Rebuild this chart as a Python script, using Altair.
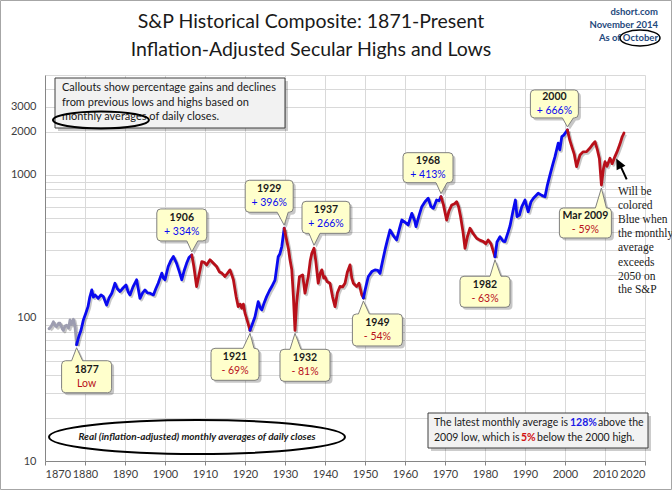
import math
import altair as alt
import pandas as pd

# ---------------- chart geometry ----------------
W, H = 600, 386
X0, X1 = 1870, 2020
Y0, Y1 = 10, 5000
PPY = W / (X1 - X0)
PPD = H / math.log10(Y1 / Y0)
FONT = "Lato"

# ---------------- data ----------------
years = [
    1871.0, 1871.5, 1872.1, 1872.6, 1872.9, 1873.4, 1873.75, 1874.3, 1874.6, 1875.0,
    1875.4, 1875.9, 1876.25, 1876.6, 1877.1, 1877.5, 1877.9,
    1878.5, 1879.0, 1879.6, 1880.2, 1880.75, 1881.2, 1881.7, 1882.1, 1882.5, 1883.3,
    1884.0, 1884.6, 1885.4, 1886.0, 1886.7, 1887.5, 1888.1, 1888.75, 1889.5, 1890.25,
    1890.8, 1891.25, 1892.0, 1892.9, 1893.75, 1894.4, 1895.0, 1895.6, 1896.25, 1897.1,
    1897.7, 1898.3, 1899.2, 1899.6, 1900.0, 1900.8, 1901.4, 1902.1, 1902.5, 1902.9,
    1903.6, 1904.2, 1904.8, 1905.4, 1906.0, 1906.7,
    1907.2, 1907.9, 1908.5, 1909.2, 1909.8, 1910.4, 1911.25, 1912.1, 1912.9, 1913.6,
    1914.2, 1915.0, 1915.6, 1916.25, 1916.7, 1917.1, 1917.8, 1918.3, 1918.8, 1919.2,
    1919.6, 1920.0, 1920.6, 1921.25,
    1921.8, 1922.5, 1923.3, 1923.8, 1924.2, 1924.8, 1925.4, 1926.1, 1926.7, 1927.5,
    1928.3, 1928.7, 1929.2, 1929.8,
    1930.4, 1930.9, 1931.25, 1931.7, 1932.1, 1932.5, 1932.9, 1933.6, 1934.4, 1935.0,
    1935.8, 1936.3, 1936.7, 1937.25, 1937.7, 1938.3, 1938.8, 1939.2, 1939.7, 1940.0,
    1940.5, 1941.25, 1941.9, 1942.5, 1943.1, 1943.75, 1944.4, 1945.0, 1945.6, 1946.25,
    1946.7, 1947.1, 1947.5, 1947.9, 1948.5, 1949.2, 1949.6,
    1950.1, 1950.8, 1951.7, 1952.5, 1953.2, 1953.75, 1954.4, 1955.0, 1955.6, 1956.25,
    1957.25, 1957.9, 1958.6, 1959.2, 1959.9, 1960.8, 1961.7, 1962.4, 1962.75, 1963.5,
    1964.2, 1965.0, 1965.8, 1966.5, 1967.1, 1967.9, 1968.5, 1969.0,
    1969.6, 1970.4, 1971.0, 1971.7, 1972.4, 1972.9, 1973.4, 1973.9, 1974.5, 1975.0,
    1975.6, 1976.25, 1977.0, 1977.9, 1978.7, 1979.6, 1980.2, 1980.8, 1981.5, 1982.5,
    1983.0, 1983.75, 1984.5, 1985.0, 1985.8, 1986.25, 1987.0, 1987.6, 1988.0, 1988.6,
    1989.2, 1990.0, 1990.8, 1991.5, 1992.1, 1993.3, 1994.2, 1995.0, 1995.6, 1996.25,
    1997.0, 1997.5, 1998.3, 1998.7, 1999.2, 1999.7, 2000.6,
    2001.2, 2001.7, 2002.3, 2002.9, 2003.75, 2004.5, 2005.4, 2006.3, 2007.0, 2007.5,
    2008.1, 2008.6, 2009.1, 2009.6, 2010.0, 2010.5, 2011.25, 2011.8, 2012.5, 2013.0,
    2013.75, 2014.3, 2014.75,
]
values = [
    84, 87, 94, 88, 87, 92, 92, 84, 82, 88,
    89, 85, 97, 90, 98, 87, 65,
    75, 82, 97, 108, 120, 140, 157, 140, 145, 137,
    145, 141, 123, 138, 149, 175, 160, 153, 162, 170,
    152, 145, 165, 185, 137, 150, 157, 150, 149, 145,
    160, 175, 206, 190, 185, 229, 250, 269, 255, 241,
    210, 185, 215, 241, 265, 276,
    230, 166, 200, 248, 245, 235, 255, 241, 229, 210,
    206, 195, 205, 217, 200, 185, 140, 120, 125, 117,
    125, 108, 95, 82,
    90, 102, 130, 118, 114, 128, 141, 155, 166, 184,
    268, 280, 316, 424,
    351, 300, 255, 217, 141, 82, 127, 194, 200, 149,
    194, 250, 283, 307, 250, 175, 205, 217, 190, 194,
    180, 175, 140, 120, 150, 166, 165, 175, 210, 235,
    190, 175, 170, 166, 175, 145, 138,
    160, 194, 211, 217, 215, 205, 250, 299, 350, 412,
    370, 351, 420, 484, 470, 447, 539, 480, 435, 520,
    600, 650, 687, 600, 585, 668, 660, 705,
    620, 484, 560, 617, 630, 651, 600, 511, 400, 307,
    370, 424, 390, 361, 350, 342, 330, 351, 330, 268,
    340, 370, 345, 342, 400, 440, 560, 668, 511, 525,
    600, 668, 553, 650, 687, 745, 720, 705, 850, 1000,
    1200, 1343, 1667, 1500, 1854, 1900, 2065,
    1750, 1578, 1400, 1143, 1380, 1450, 1456, 1550, 1650, 1710,
    1496, 1300, 851, 1100, 1238, 1150, 1309, 1200, 1350, 1450,
    1650, 1850, 1965,
]
# secular turning points and the phase of each stretch between them
turn_years = [1877.9, 1906.7, 1921.25, 1929.8, 1949.6, 1969.0, 1982.5, 2000.6]
phases = ["pre", "bull", "bear", "bull", "bear", "bull", "bear", "bull", "bear"]

# callouts
cl_label = ["1877", "1906", "1921", "1929", "1932", "1937", "1949", "1968", "1982", "2000", "Mar 2009"]
cl_change = ["Low", "+ 334%", "- 69%", "+ 396%", "- 81%", "+ 266%", "- 54%", "+ 413%", "- 63%", "+ 666%", "- 59%"]
cl_year = [1877.9, 1906.7, 1921.25, 1929.8, 1932.5, 1937.25, 1949.6, 1969.0, 1982.5, 2000.6, 2009.1]

# axis values
x_ticks = list(range(1870, 2021, 10))
y_labels = [10, 100, 1000, 2000, 3000]
y_grid = [m * 10 ** e for e in (1, 2, 3) for m in range(1, 10) if m * 10 ** e <= 5000]

# ---------------- layout of callouts (px, relative to the point) ----------------
cl_box = [(10, 32, 50, 32), (-10, -30, 50, 32), (-15, 34, 48, 32), (-15, -32, 48, 32),
          (10, 35, 50, 32), (12, -31, 48, 32), (14, 32, 50, 32), (-13, -29, 50, 30),
          (-10, 35, 50, 31), (-13, -26, 48, 28), (-16, 38, 52, 30)]

BLUE, RED, GRAY = "#0A0AF0", "#B8101A", "#9D9DB0"

# ---------------- build tables ----------------
rows = []
bounds = [-1e9] + turn_years + [1e9]
for i, ph in enumerate(phases):
    for yr, v in zip(years, values):
        if bounds[i] <= yr <= bounds[i + 1]:
            rows.append({"x": yr, "y": v, "seg": i, "phase": ph})
line_df = pd.DataFrame(rows)
shadow_df = line_df.copy()
shadow_df["x"] = shadow_df["x"] + 1.5 / PPY
shadow_df["y"] = shadow_df["y"] * 10 ** (-1.5 / PPD)

lookup = dict(zip(years, values))


def fmt(a, b):
    return f"{a:.1f},{b:.1f}"


def callout_path(cx, cy, w, h, tx, ty, r=4):
    L, R, T, B = cx - w / 2, cx + w / 2, cy - h / 2, cy + h / 2
    b1 = min(max(tx - 5, L + r + 1), R - r - 12)
    b2 = b1 + 11
    if ty > B:
        return (f"M{fmt(L + r, T)} L{fmt(R - r, T)} Q{fmt(R, T)} {fmt(R, T + r)} L{fmt(R, B - r)} "
                f"Q{fmt(R, B)} {fmt(R - r, B)} L{fmt(b2, B)} L{fmt(tx, ty)} L{fmt(b1, B)} "
                f"L{fmt(L + r, B)} Q{fmt(L, B)} {fmt(L, B - r)} L{fmt(L, T + r)} Q{fmt(L, T)} {fmt(L + r, T)} Z")
    return (f"M{fmt(L + r, T)} L{fmt(b1, T)} L{fmt(tx, ty)} L{fmt(b2, T)} L{fmt(R - r, T)} "
            f"Q{fmt(R, T)} {fmt(R, T + r)} L{fmt(R, B - r)} Q{fmt(R, B)} {fmt(R - r, B)} "
            f"L{fmt(L + r, B)} Q{fmt(L, B)} {fmt(L, B - r)} L{fmt(L, T + r)} Q{fmt(L, T)} {fmt(L + r, T)} Z")


crow, trow1, trow2 = [], [], []
for lab, chg, yr, (cx, cy, w, h) in zip(cl_label, cl_change, cl_year, cl_box):
    v = lookup[yr]
    ty = 3 if cy > 0 else -3
    crow.append({"x": yr, "y": v, "path": callout_path(cx, cy, w, h, 0, ty),
                 "spath": callout_path(cx + 2.5, cy + 2.5, w, h, 2.5, ty + 2.5)})
    col = BLUE if chg.startswith("+") else RED
    tx = yr + cx / PPY
    trow1.append({"x": tx, "y": v * 10 ** (-(cy - 7) / PPD), "t": lab})
    trow2.append({"x": tx, "y": v * 10 ** (-(cy + 7) / PPD), "t": chg, "c": col})
call_df = pd.DataFrame(crow)
ctext1_df = pd.DataFrame(trow1)
ctext2_df = pd.DataFrame(trow2)

xs = alt.Scale(domain=[X0, X1], nice=False, zero=False)
ys = alt.Scale(type="log", domain=[Y0, Y1], nice=False)

label_expr = ("indexof([" + ",".join(str(v) for v in y_labels) +
              "], datum.value) >= 0 ? format(datum.value, 'd') : ''")

AX_X = alt.Axis(values=x_ticks, format="d", grid=True, gridColor="#D9D9D9",
                domainColor="#868686", tickColor="#868686", tickSize=4,
                labelFont=FONT, labelFontSize=11, labelColor="#404040",
                labelPadding=3, labelOverlap=False, title=None)
AX_Y = alt.Axis(values=y_grid, labelExpr=label_expr, grid=True, gridColor="#D9D9D9",
                domainColor="#868686", ticks=False, labelPadding=9,
                labelFont=FONT, labelFontSize=11, labelColor="#404040",
                labelOverlap=False, title=None)
EX = alt.X("x:Q", scale=xs, axis=AX_X)
EY = alt.Y("y:Q", scale=ys, axis=AX_Y)

shadow = alt.Chart(shadow_df).mark_line(strokeWidth=3, color="#000000", opacity=0.22,
                                        strokeJoin="round").encode(
    x=EX, y=EY, detail="seg:N", order="x:Q")
lines = alt.Chart(line_df).mark_line(strokeWidth=2.8, strokeCap="round", strokeJoin="round").encode(
    x=EX, y=EY,
    color=alt.Color("phase:N", scale=alt.Scale(domain=["pre", "bull", "bear"],
                                               range=[GRAY, BLUE, RED]), legend=None),
    detail="seg:N",
    order="x:Q",
)

call_shadow = alt.Chart(call_df).mark_point(size=4, filled=True, fill="#000000", opacity=0.22,
                                            strokeWidth=0).encode(
    x=EX, y=EY, shape=alt.Shape("spath:N", scale=None, legend=None))
call_box = alt.Chart(call_df).mark_point(size=4, filled=True, fill="#FFFFCC", fillOpacity=1,
                                         stroke="#7F7F7F", strokeWidth=1, opacity=1).encode(
    x=EX, y=EY, shape=alt.Shape("path:N", scale=None, legend=None))
call_text1 = alt.Chart(ctext1_df).mark_text(font=FONT, fontSize=10.5, baseline="middle",
                                            align="center", fontWeight="bold",
                                            color="#1A1A1A").encode(
    x=EX, y=EY, text="t:N")
call_text2 = alt.Chart(ctext2_df).mark_text(font=FONT, fontSize=10.5, baseline="middle",
                                            align="center").encode(
    x=EX, y=EY, text="t:N", color=alt.Color("c:N", scale=None, legend=None))

one = pd.DataFrame({"k": [0]})


def txt(s, x, y, size=11, color="#1A1A1A", align="left", weight="normal", style="normal",
        font=FONT):
    return alt.Chart(one).mark_text(text=s, font=font, fontSize=size, color=color, align=align,
                                    baseline="middle", fontWeight=weight, fontStyle=style).encode(
        x=alt.value(x), y=alt.value(y))


def ell(cx, cy, rx, ry, sw=2):
    p = f"M{-rx},0 A{rx},{ry} 0 1,0 {rx},0 A{rx},{ry} 0 1,0 {-rx},0 Z"
    return alt.Chart(one).mark_point(shape=p, size=4, filled=False, stroke="#000000",
                                     strokeWidth=sw, opacity=1).encode(
        x=alt.value(cx), y=alt.value(cy))


def box(x1, y1, x2, y2, fill, stroke=None, sw=1, op=1.0):
    kw = dict(fill=fill, strokeWidth=sw, opacity=op)
    if stroke:
        kw["stroke"] = stroke
    return alt.Chart(one).mark_rect(**kw).encode(
        x=alt.value(x1), x2=alt.value(x2), y=alt.value(y1), y2=alt.value(y2))


deco = [
    # outer frame
    alt.Chart(one).mark_rect(fill="transparent", stroke="#A6A6A6", strokeWidth=1).encode(
        x=alt.value(-44.5), x2=alt.value(626.5), y=alt.value(-74.5), y2=alt.value(414.5)),
    # titles
    txt("S&P Historical Composite: 1871-Present", 266, -53, size=19.5, align="center"),
    txt("Inflation-Adjusted Secular Highs and Lows", 266, -25, size=19.5, align="center"),
    txt("dshort.com", 613, -63, size=9.5, color="#1F497D", align="right", weight="bold"),
    txt("November 2014", 613, -50, size=9.5, color="#1F497D", align="right", weight="bold"),
    txt("As of October", 613, -37, size=9.5, color="#1F497D", align="right", weight="bold"),
    ell(595, -37, 20, 8, sw=1.5),
    # top-left note
    box(13, 6, 243, 56, "#000000", None, 0, 0.2),
    box(10, 3, 240, 53, "#F2F2F2", "#3F3F3F"),
    txt("Callouts show percentage gains and declines", 17, 13),
    txt("from  previous  lows and highs based on", 17, 28),
    txt("monthly  averages of daily closes.", 17, 42),
    ell(56, 45, 48, 8.5),
    # bottom-left ellipse
    ell(152, 362, 148, 17),
    txt("Real (inflation-adjusted) monthly averages of daily closes", 152, 362, size=10,
        align="center", weight="bold", style="italic"),
    # bottom-right note
    box(386, 341, 606, 376, "#000000", None, 0, 0.2),
    box(383, 338, 603, 373, "#F2F2F2", "#3F3F3F"),
    txt("The latest monthly average is", 389, 348, size=10.5),
    txt("128%", 525, 348, size=10.5, color="#1A1AE6", weight="bold"),
    txt("above the", 553, 348, size=10.5),
    txt("2009  low, which is", 389, 363, size=10.5),
    txt("5%", 476, 363, size=10.5, color="#D01010", weight="bold"),
    txt("below the 2000 high.", 492, 363, size=10.5),
    # arrow
    alt.Chart(one).mark_point(shape="M0,0 L0.3,8 L6.3,4.9 Z M3.5,6 L9.4,18.6", size=4,
                              filled=True, fill="#000000", stroke="#000000", strokeWidth=2,
                              opacity=1).encode(x=alt.value(572.3), y=alt.value(85.7)),
]
note_lines = ["Will be", "colored", "Blue when", "the monthly", "average", "exceeds",
              "2050 on", "the S&P"]
note_y = [116.7, 131, 145, 159, 173.3, 187.7, 201.7, 215]
for s, yy in zip(note_lines, note_y):
    deco.append(txt(s, 573, yy, size=11.5, font="Liberation Serif"))

chart = alt.layer(shadow, lines, call_shadow, call_box, call_text1, call_text2, *deco).properties(
    width=W, height=H,
    autosize=alt.AutoSizeParams(type="none"),
    padding={"left": 45, "top": 75, "right": 27, "bottom": 29},
    background="white",
).configure_view(stroke=None)

chart.save("out.html", embed_options={"renderer": "svg", "actions": False})
